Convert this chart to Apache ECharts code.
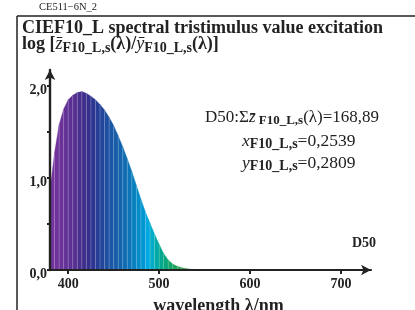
<!DOCTYPE html>
<html>
<head>
<meta charset="utf-8">
<script src="https://cdn.jsdelivr.net/npm/echarts@6/dist/echarts.min.js"></script>
<style>
  html, body { margin: 0; padding: 0; background: #fff; }
  #chart { width: 415px; height: 310px; }
</style>
</head>
<body>
<div id="chart"></div>
<script>
// wavelength grid (nm) and relative excitation values
var wl = [380, 385, 390, 395, 400, 405, 410, 415, 420, 425, 430, 435, 440, 445, 450, 455, 460, 465, 470, 475,
          480, 485, 490, 495, 500, 505, 510, 515, 520, 525, 530, 535, 540, 545, 550,
          560, 570, 580, 590, 600, 610, 620, 630, 640, 650, 660, 670, 680, 690, 700];
var zbar = [0.87, 1.28, 1.58, 1.75, 1.85, 1.90, 1.93, 1.94, 1.92, 1.89, 1.85, 1.80, 1.74, 1.66, 1.57, 1.46, 1.34, 1.21, 1.07, 0.92,
            0.77, 0.63, 0.51, 0.39, 0.28, 0.18, 0.11, 0.065, 0.04, 0.025, 0.015, 0.009, 0.006, 0.004, 0.003,
            0.003, 0.003, 0.003, 0.003, 0.003, 0.003, 0.002, 0.002, 0.002, 0.002, 0.002, 0.002, 0.002, 0.002, 0.002];
// one colour per band (between wl[i] and wl[i+1])
var bandColors = ['#74349d', '#6f339b', '#6a3299', '#633196', '#5c3093', '#552f90', '#4a2e8d', '#3f2e8c', '#35308e', '#2d3693',
                  '#273e98', '#23469c', '#1f4ea0', '#1b55a5', '#175ca9', '#1364ad', '#0f6cb2', '#0b75b8', '#0880c0', '#048cc9',
                  '#0096d2', '#00a8e2', '#00acc8', '#00aaa8', '#00a88e', '#06a67a', '#12a468', '#1ea25c', '#2ca052', '#3c9e4a',
                  '#4e9f44', '#62a240', '#76a63c', '#8caa38', '#a6b034', '#c4b42e', '#dcb02a', '#eea228', '#f08a26', '#e87024',
                  '#de5a24', '#d04828', '#c03a2c', '#b0302e', '#a02a2e', '#90262c', '#80222a', '#702028', '#601e26'];

var xTicks = [400, 500, 600, 700];
var yTicks = [0, 0.5, 1, 1.5, 2];
var yLabelVals = [0, 1, 2];
var yLabelText = ['0,0', '1,0', '2,0'];

var serif = 'Liberation Serif';
var ink = '#222';

var bands = [];
for (var i = 0; i < wl.length - 1; i++) {
    bands.push([wl[i], zbar[i], wl[i + 1], zbar[i + 1]]);
}

// rich text styles shared by the annotation lines
function annoRich(main, sub) {
    return {
        r: { fontFamily: serif, fontSize: main, lineHeight: 20, verticalAlign: 'middle', fill: ink },
        i: { fontFamily: serif, fontStyle: 'italic', fontSize: main, lineHeight: 20, verticalAlign: 'middle', fill: ink },
        s: { fontFamily: serif, fontWeight: 'bold', fontSize: sub, lineHeight: 20, verticalAlign: 'bottom', fill: ink }
    };
}

var chart = echarts.init(document.getElementById('chart'));
chart.setOption({
    animation: false,
    backgroundColor: '#fff',
    grid: { left: 50, right: 44, top: 70, bottom: 40, outerBoundsMode: 'none', containLabel: false },
    xAxis: {
        type: 'value',
        min: 380,
        max: 733,
        z: 5,
        name: 'wavelength λ/nm',
        nameLocation: 'middle',
        nameGap: 27,
        nameTextStyle: { fontFamily: serif, fontWeight: 'bold', fontSize: 18, color: ink, padding: [0, 0, 0, 16] },
        axisLine: { lineStyle: { color: ink, width: 2.2 }, symbol: ['none', 'arrow'], symbolSize: [8, 10] },
        axisTick: { customValues: xTicks, length: 4, lineStyle: { color: ink, width: 2 } },
        axisLabel: { customValues: xTicks, fontFamily: serif, fontWeight: 'bold', fontSize: 14, color: ink, margin: 7 },
        splitLine: { show: false }
    },
    yAxis: {
        type: 'value',
        min: 0,
        max: 2.174,
        z: 5,
        axisLine: { lineStyle: { color: ink, width: 2.4 }, symbol: ['none', 'arrow'], symbolSize: [8, 10] },
        axisTick: { customValues: yTicks, length: 3, lineStyle: { color: ink, width: 2 } },
        axisLabel: {
            customValues: yLabelVals,
            fontFamily: serif, fontWeight: 'bold', fontSize: 14, color: ink, margin: 3,
            verticalAlign: 'top', lineHeight: 8,
            formatter: function (v) { return yLabelText[yLabelVals.indexOf(v)]; }
        },
        splitLine: { show: false }
    },
    series: [{
        type: 'custom',
        z: 2,
        data: bands,
        renderItem: function (params, api) {
            var k = params.dataIndex;
            var p0 = api.coord([api.value(0), 0]);
            var p1 = api.coord([api.value(0), api.value(1)]);
            var p2 = api.coord([api.value(2), api.value(3)]);
            var p3 = api.coord([api.value(2), 0]);
            var kids = [{
                type: 'polygon',
                shape: { points: [p0, p1, p2, p3] },
                style: { fill: bandColors[k], stroke: bandColors[k], lineWidth: 0.3 }
            }];
            if (k > 0 && api.value(0) < 560) {
                kids.push({
                    type: 'line',
                    shape: { x1: p0[0], y1: p0[1], x2: p1[0], y2: p1[1] },
                    style: { stroke: 'rgba(255,255,255,0.28)', lineWidth: 0.8 }
                });
            }
            return { type: 'group', children: kids };
        }
    }],
    graphic: [
        // frame
        { type: 'line', shape: { x1: 17, y1: 16, x2: 415, y2: 16 }, style: { stroke: ink, lineWidth: 1.5 } },
        { type: 'line', shape: { x1: 17, y1: 16, x2: 17, y2: 310 }, style: { stroke: ink, lineWidth: 1.5 } },
        {
            type: 'text', left: 39, top: 2,
            style: { text: 'CE511−6N_2', font: '10.5px "Liberation Serif"', fill: ink }
        },
        {
            type: 'text', left: 22, top: 19,
            style: { text: 'CIEF10_L spectral tristimulus value excitation', font: 'bold 18px "Liberation Serif"', fill: ink }
        },
        {
            type: 'text', left: 22, top: 35,
            style: {
                text: '{b|log [}{i|z̄}{s|F10_L,s}{b|(λ)/}{i|ȳ}{s|F10_L,s}{b|(λ)]}',
                rich: {
                    b: { fontFamily: serif, fontWeight: 'bold', fontSize: 18, lineHeight: 22, verticalAlign: 'middle', fill: ink },
                    i: { fontFamily: serif, fontStyle: 'italic', fontSize: 18, lineHeight: 22, verticalAlign: 'middle', fill: ink },
                    s: { fontFamily: serif, fontWeight: 'bold', fontSize: 14, lineHeight: 22, verticalAlign: 'bottom', fill: ink }
                }
            }
        },
        {
            type: 'text', left: 205, top: 109,
            style: { text: '{r|D50:Σ}{i|z̄}{s| F10_L,s}{r|(λ)=168,89}', rich: annoRich(17, 13) }
        },
        {
            type: 'text', left: 242, top: 132,
            style: { text: '{i|x}{s|F10_L,s}{r|=0,2539}', rich: annoRich(17.5, 14) }
        },
        {
            type: 'text', left: 242, top: 154,
            style: { text: '{i|y}{s|F10_L,s}{r|=0,2809}', rich: annoRich(17.5, 14) }
        },
        {
            type: 'text', left: 352, top: 236,
            style: { text: 'D50', font: 'bold 14px "Liberation Serif"', fill: ink }
        }
    ]
});
</script>
</body>
</html>
